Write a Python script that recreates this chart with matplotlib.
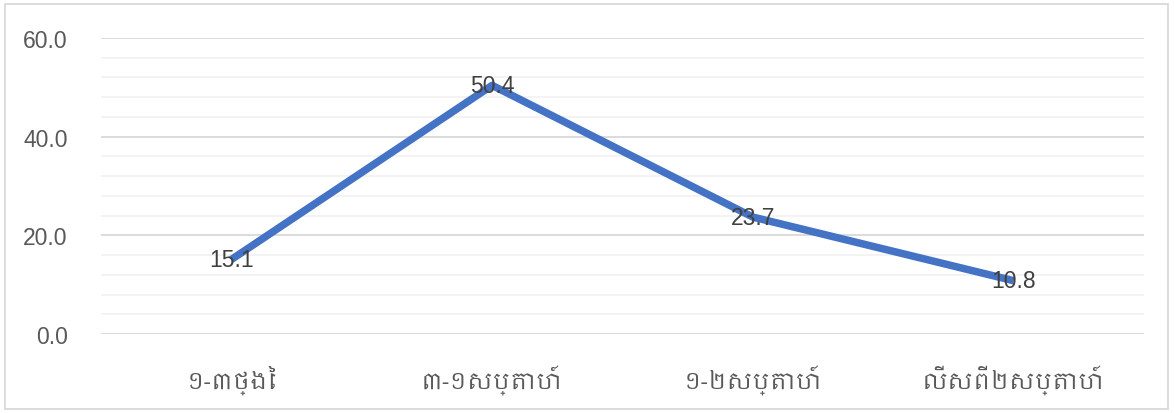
import matplotlib
matplotlib.use("Agg")
import matplotlib.pyplot as plt
from matplotlib import font_manager
from matplotlib.ticker import MultipleLocator, FormatStrFormatter
from matplotlib.patches import Rectangle

categories = ["១-៣ថ្ងៃ", "៣-១សប្តាហ៍", "១-២សប្តាហ៍", "លើសពី២សប្តាហ៍"]
values = [15.1, 50.4, 23.7, 10.8]

khmer = sorted({f.name for f in font_manager.fontManager.ttflist if 'khmer' in f.name.lower()})
print("khmer fonts:", khmer)
print(sorted({f.name for f in font_manager.fontManager.ttflist}))
families = ['Liberation Sans'] + khmer + ['DejaVu Sans']
plt.rcParams['font.family'] = families

fig = plt.figure(figsize=(11.74, 4.14), dpi=100)
ax = fig.add_axes([101/1174, 1-335/414, (1144-101)/1174, (335-39)/414])

x = list(range(len(categories)))
ax.plot(x, values, color='#4472C4', linewidth=5.4, solid_capstyle='butt', zorder=3)
for xi, v in zip(x, values):
    ax.text(xi, v, f"{v:.1f}", ha='center', va='center', fontsize=16.5, color='#404040', zorder=4)

ax.set_xlim(-0.5, len(categories) - 0.5)
ax.set_ylim(0, 60)
ax.yaxis.set_major_locator(MultipleLocator(20))
ax.yaxis.set_minor_locator(MultipleLocator(4))
ax.yaxis.set_major_formatter(FormatStrFormatter('%.1f'))
ax.set_xticks(x)
ax.set_xticklabels(categories)
ax.grid(axis='y', which='major', color='#d9d9d9', linewidth=1.3, zorder=0)
ax.grid(axis='y', which='minor', color='#f2f2f2', linewidth=1.3, zorder=0)
for s in ax.spines.values():
    s.set_visible(False)
ax.tick_params(axis='both', which='both', length=0)
ax.tick_params(axis='y', labelsize=16.5, labelcolor='#595959', pad=24)
ax.tick_params(axis='x', labelsize=16.5, labelcolor='#595959', pad=22)
for lbl in ax.get_xticklabels():
    lbl.set_family(families)

fig.patches.append(Rectangle((5/1174, 1-410/414), 1163/1174, 405/414, transform=fig.transFigure,
                             fill=False, edgecolor='#d9d9d9', linewidth=1.3))

fig.savefig('out.png', dpi=100)
